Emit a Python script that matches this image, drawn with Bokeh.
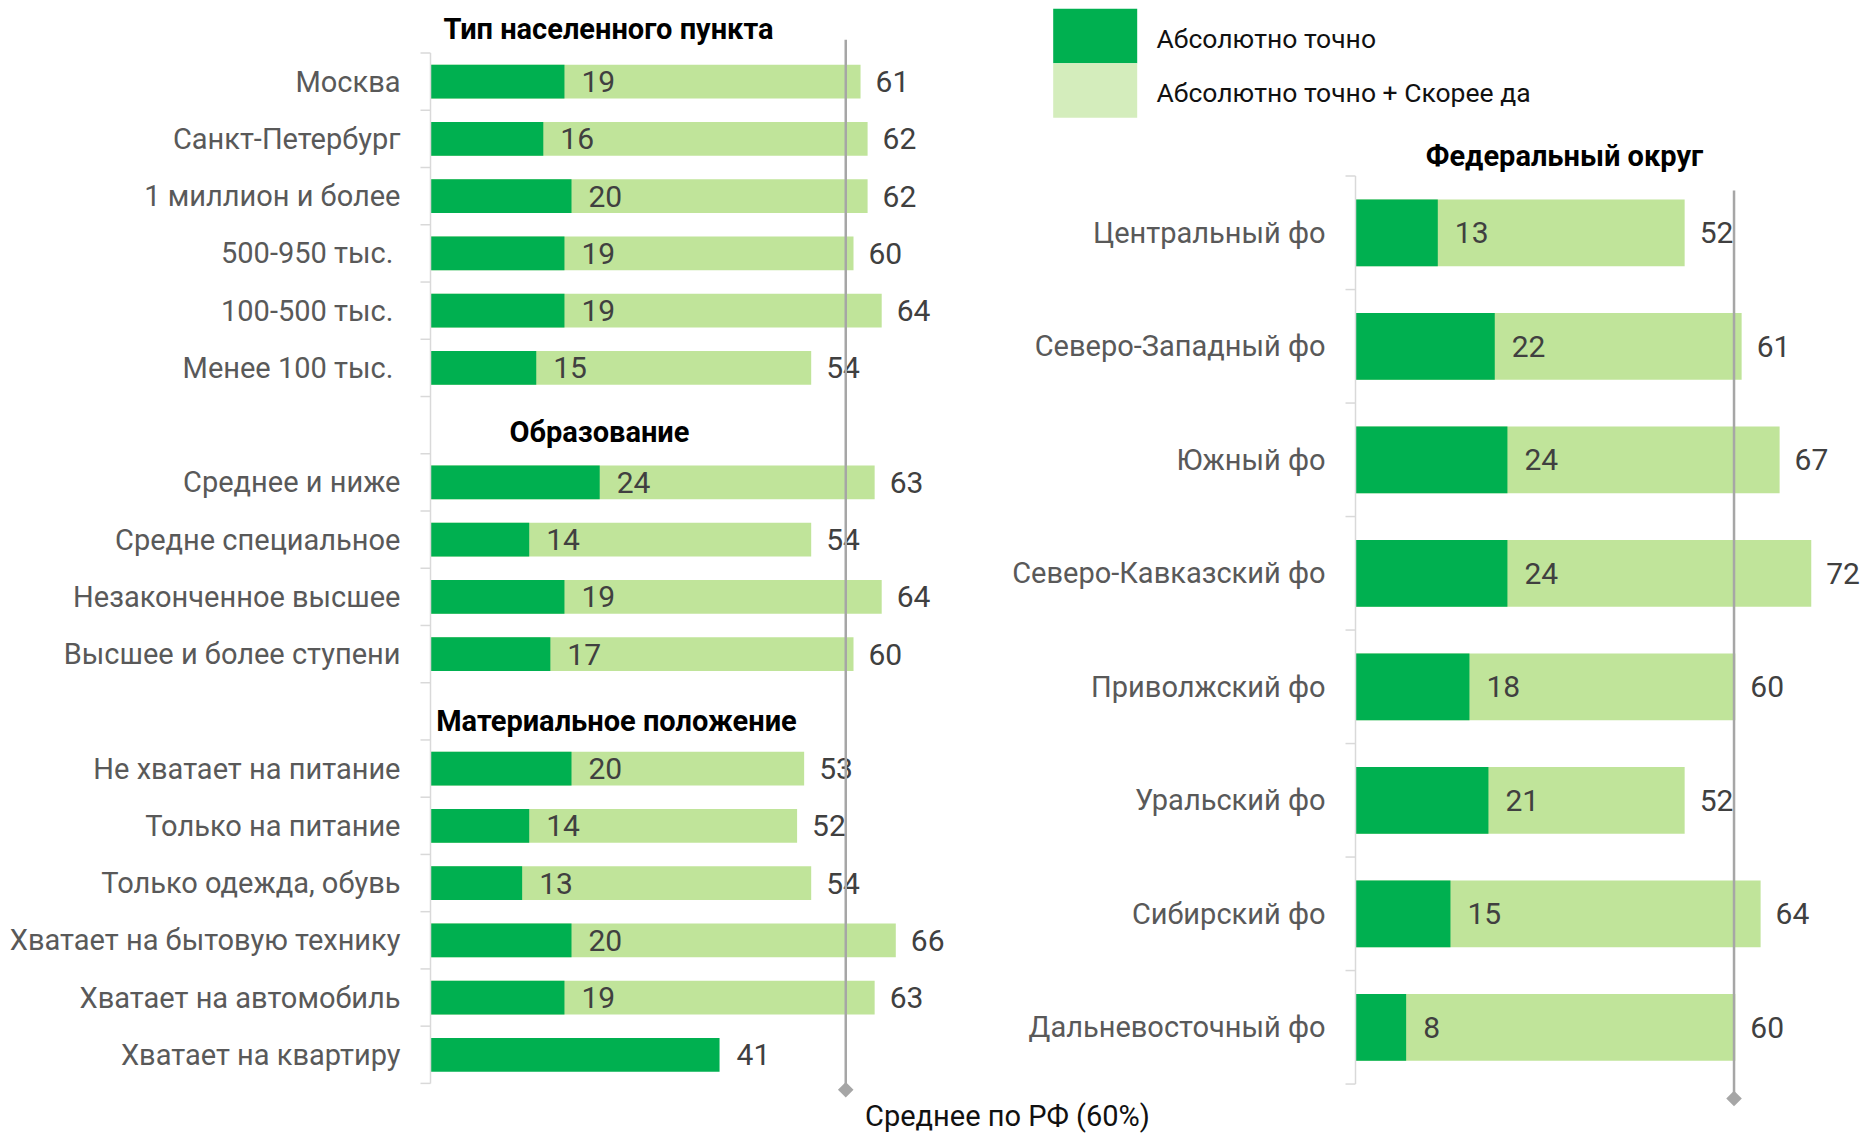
import math
from bokeh.plotting import figure
from bokeh.models import Range1d
from bokeh.core.properties import value
from bokeh.embed import file_html
from bokeh.resources import INLINE

# ---------------- data ----------------
section_titles = ["Тип населенного пункта", "Образование", "Материальное положение"]

type_labels = ["Москва", "Санкт-Петербург", "1 миллион и более",
               "500-950 тыс.\u00a0", "100-500 тыс.\u00a0", "Менее 100 тыс.\u00a0"]
type_abs = [19, 16, 20, 19, 19, 15]
type_total = [61, 62, 62, 60, 64, 54]

edu_labels = ["Среднее и ниже", "Средне специальное", "Незаконченное высшее",
              "Высшее и более ступени"]
edu_abs = [24, 14, 19, 17]
edu_total = [63, 54, 64, 60]

mat_labels = ["Не хватает на питание", "Только на питание", "Только одежда, обувь",
              "Хватает на бытовую технику", "Хватает на автомобиль", "Хватает на квартиру"]
mat_abs = [20, 14, 13, 20, 19, 41]
mat_total = [53, 52, 54, 66, 63, None]

fed_title = "Федеральный округ"
fed_labels = ["Центральный фо", "Северо-Западный фо", "Южный фо", "Северо-Кавказский фо",
              "Приволжский фо", "Уральский фо", "Сибирский фо", "Дальневосточный фо"]
fed_abs = [13, 22, 24, 24, 18, 21, 15, 8]
fed_total = [52, 61, 67, 72, 60, 52, 64, 60]

legend_labels = ["Абсолютно точно", "Абсолютно точно + Скорее да"]
avg_label = "Среднее по РФ (60%)"
avg_value = 60

# ---------------- style ----------------
DARK = "#00B050"
LIGHT = "#C0E49A"
LIGHT_LEG = "#D4EDBC"
LBL = "#595959"
VAL = "#404040"
AXC = "#D9D9D9"
AVGC = "#A6A6A6"
FONT = value("Roboto")

W, H = 1871, 1135
# left chart geometry (canvas px)
L_X0, L_PX = 430.0, 7.05        # zero position, px per percent
L_Y0, L_DY = 81.2, 57.24        # first row centre, row pitch
# right chart geometry
R_X0, R_PX = 1355.0, 6.33
R_Y0, R_DY = 232.3, 113.5

p = figure(width=W, height=H, output_backend="svg", toolbar_location=None, tools="",
           x_range=Range1d(-L_X0 / L_PX, (W - L_X0) / L_PX),
           y_range=Range1d((H - L_Y0) / L_DY, -L_Y0 / L_DY),
           x_axis_location=None, y_axis_location=None, min_border=0,
           outline_line_color=None, background_fill_color="white")
for g in p.grid:
    g.visible = False
p.extra_x_ranges = {"rx": Range1d(-R_X0 / R_PX, (W - R_X0) / R_PX), "px": Range1d(0, W)}
p.extra_y_ranges = {"ry": Range1d((H - R_Y0) / R_DY, -R_Y0 / R_DY), "px": Range1d(H, 0)}

# ---------------- left chart ----------------
sections = [(type_labels, type_abs, type_total),
            (edu_labels, edu_abs, edu_total),
            (mat_labels, mat_abs, mat_total)]
rows_y, labels, abs_v, tot_v, title_slots = [], [], [], [], []
slot = -1
for labs, a, t in sections:
    title_slots.append(slot)
    slot += 1
    for i in range(len(labs)):
        rows_y.append(slot)
        labels.append(labs[i]); abs_v.append(a[i]); tot_v.append(t[i])
        slot += 1

BAR_H = 0.589
ty = [y for y, t in zip(rows_y, tot_v) if t is not None]
tv = [t for t in tot_v if t is not None]
p.hbar(y=ty, left=0, right=tv, height=BAR_H, fill_color=LIGHT, line_color=None)
p.hbar(y=rows_y, left=0, right=abs_v, height=BAR_H, fill_color=DARK, line_color=None)

lab = dict(text_font=FONT, text_font_size="29px", text_baseline="middle")
txt = dict(text_font=FONT, text_font_size="30px", text_baseline="middle")
p.text(x=[0] * len(rows_y), y=rows_y, text=labels, x_offset=-30, text_align="right",
       text_color=LBL, **lab)
p.text(x=abs_v, y=rows_y, text=[str(v) for v in abs_v], x_offset=17, text_align="left",
       text_color=VAL, **txt)
p.text(x=tv, y=ty, text=[str(v) for v in tv], x_offset=15, text_align="left",
       text_color=VAL, **txt)

# axis with ticks at category boundaries
n_left = rows_y[-1] + 1
bnd = [b - 0.5 for b in range(0, n_left + 1)]
p.segment(x0=0, y0=bnd[0], x1=0, y1=bnd[-1], line_color=AXC, line_width=1.5)
p.segment(x0=[-10 / L_PX] * len(bnd), y0=bnd, x1=[0] * len(bnd), y1=bnd,
          line_color=AXC, line_width=1.5)

# average line (left)
l_avg_x = avg_value - 1.1
p.segment(x0=l_avg_x, y0=-0.732, x1=l_avg_x, y1=17.611, line_color=AVGC, line_width=2.5)
p.scatter(x=[l_avg_x], y=[17.611], marker="square", size=11, angle=math.pi / 4,
          fill_color=AVGC, line_color=None)

# ---------------- right chart ----------------
fy = list(range(len(fed_labels)))
p.hbar(y=fy, left=0, right=fed_total, height=0.588, fill_color=LIGHT, line_color=None,
       x_range_name="rx", y_range_name="ry")
p.hbar(y=fy, left=0, right=fed_abs, height=0.588, fill_color=DARK, line_color=None,
       x_range_name="rx", y_range_name="ry")
p.text(x=[0] * len(fy), y=fy, text=fed_labels, x_offset=-30, text_align="right",
       text_color=LBL, x_range_name="rx", y_range_name="ry", **lab)
p.text(x=fed_abs, y=fy, text=[str(v) for v in fed_abs], x_offset=17, text_align="left",
       text_color=VAL, x_range_name="rx", y_range_name="ry", **txt)
p.text(x=fed_total, y=fy, text=[str(v) for v in fed_total], x_offset=15, text_align="left",
       text_color=VAL, x_range_name="rx", y_range_name="ry", **txt)
rb = [b - 0.5 for b in range(0, len(fy) + 1)]
p.segment(x0=0, y0=rb[0], x1=0, y1=rb[-1], line_color=AXC, line_width=1.5,
          x_range_name="rx", y_range_name="ry")
p.segment(x0=[-10 / R_PX] * len(rb), y0=rb, x1=[0] * len(rb), y1=rb, line_color=AXC,
          line_width=1.5, x_range_name="rx", y_range_name="ry")
r_avg_x = avg_value - 0.2
p.segment(x0=r_avg_x, y0=-0.373, x1=r_avg_x, y1=7.627, line_color=AVGC, line_width=2.5,
          x_range_name="rx", y_range_name="ry")
p.scatter(x=[r_avg_x], y=[7.627], marker="square", size=11, angle=math.pi / 4,
          fill_color=AVGC, line_color=None, x_range_name="rx", y_range_name="ry")

# ---------------- titles, legend, note (page layout, px) ----------------
title_x = [608, 599, 616, 1564]
title_y = [28.6, 431.9, 720.6, 155]
p.text(x=title_x, y=title_y, text=section_titles + [fed_title], text_align="center",
       text_baseline="middle", text_font=FONT, text_font_size="29px",
       text_font_style="bold", text_color="black", x_range_name="px", y_range_name="px")

p.quad(left=[1052.7, 1052.7], right=[1136.7, 1136.7], top=[8.3, 62.7],
       bottom=[62.7, 117.3], fill_color=[DARK, LIGHT_LEG], line_color=None,
       x_range_name="px", y_range_name="px")
p.text(x=[1156, 1156], y=[38, 92], text=legend_labels, text_align="left",
       text_baseline="middle", text_font=FONT, text_font_size="26.5px", text_color="#111111",
       x_range_name="px", y_range_name="px")

p.text(x=[1007], y=[1115], text=[avg_label], text_align="center", text_baseline="middle",
       text_font=FONT, text_font_size="29px", text_color="#111111",
       x_range_name="px", y_range_name="px")

open("out.html", "w").write(file_html(p, INLINE))
